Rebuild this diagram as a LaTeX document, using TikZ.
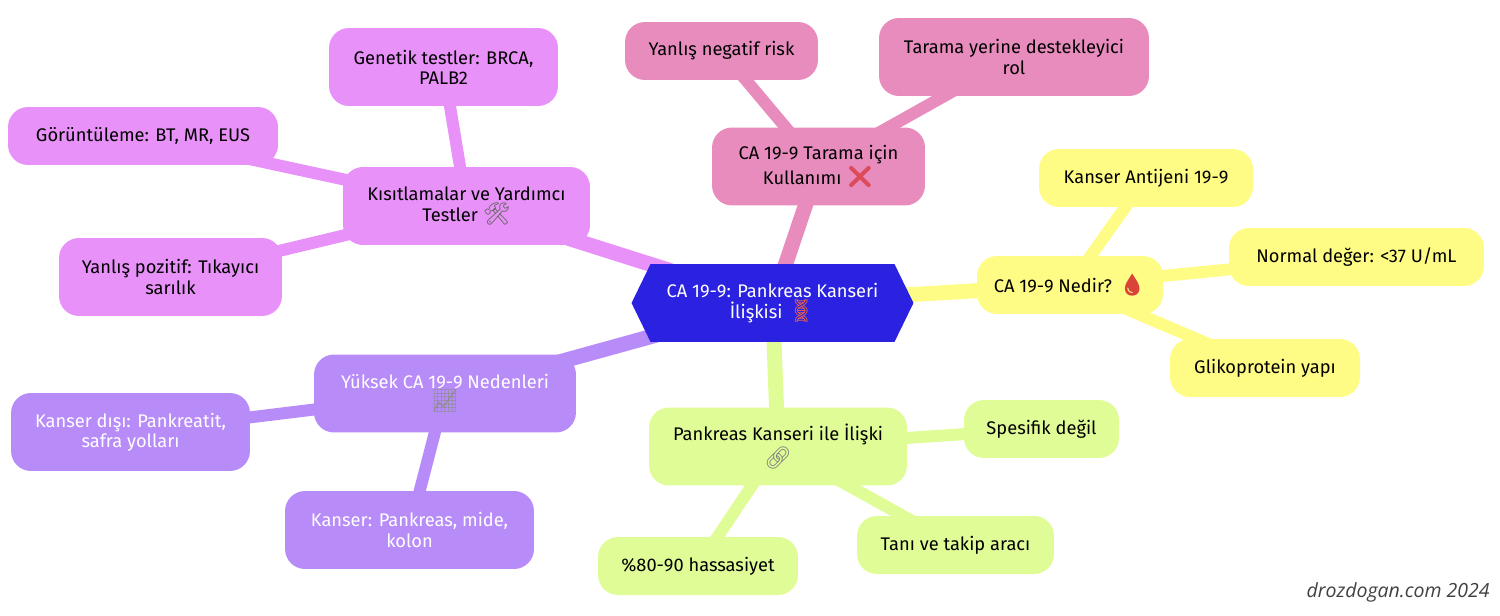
\documentclass[tikz,border=0pt]{standalone}
\usepackage{fontspec}
\setmainfont{Fira Sans}
\newfontfamily\emojifont{Noto Emoji}[Scale=1.2]
\newfontfamily\signfont{Open Sans}
\usepackage{xcolor}
\usetikzlibrary{shapes.symbols, backgrounds}
\definecolor{RootBlue}{HTML}{2A22E0}
\definecolor{TaramaPink}{HTML}{E88CBE}
\definecolor{NedirYellow}{HTML}{FFFC85}
\definecolor{IliskiGreen}{HTML}{E0FC96}
\definecolor{NedenPurple}{HTML}{B88CF8}
\definecolor{TestViolet}{HTML}{E891F8}
\definecolor{CrossRed}{HTML}{DD4A5A}
\definecolor{DropRed}{HTML}{D9433A}
\definecolor{DnaRed}{HTML}{E8604A}
\newcommand{\emo}[2]{{\emojifont\color{#1}#2}}
\tikzset{
    mapnode/.style={rounded corners=0.4cm, inner sep=0pt, align=center, minimum height=1.56cm,
        font=\fontsize{10.4}{11.5}\selectfont},
    leafnode/.style={mapnode, minimum height=1.16cm},
    rootedge/.style={line width=0.3cm},
    leafedge/.style={line width=0.24cm}
}

\begin{document}
\begin{tikzpicture}[x=0.02cm, y=-0.02cm]
    \useasboundingbox (0,0) rectangle (1500,615);

    % Root
    \node[signal, signal to=west and east, signal pointer angle=128, fill=RootBlue, text=white, align=center,
        font=\fontsize{10.4}{11.5}\selectfont, inner sep=0pt, outer sep=0pt, minimum width=5.64cm, minimum height=1.56cm] (root) at (772.5,303)
        {CA 19-9: Pankreas Kanseri\\İlişkisi \emo{DnaRed}{🧬}};

    % Tarama
    \node[mapnode, fill=TaramaPink, minimum width=4.26cm] (tarama) at (818.5,166.5) {CA 19-9 Tarama için\\Kullanımı \emo{CrossRed}{❌}};
    \node[leafnode, fill=TaramaPink, minimum width=3.86cm] (negatif) at (721.5,51) {Yanlış negatif risk};
    \node[mapnode, fill=TaramaPink, minimum width=5.4cm] (destek) at (1014,57) {Tarama yerine destekleyici\\rol};

    % Nedir
    \node[leafnode, fill=NedirYellow, minimum width=3.72cm] (nedir) at (1070,285) {CA 19-9 Nedir? \emo{DropRed}{🩸}};
    \node[leafnode, fill=NedirYellow, minimum width=4.28cm] (antijen) at (1146,178) {Kanser Antijeni 19-9};
    \node[leafnode, fill=NedirYellow, minimum width=5.1cm] (normal) at (1356.5,257) {Normal değer: <37 U/mL};
    \node[leafnode, fill=NedirYellow, minimum width=3.8cm] (yapi) at (1265,368) {Glikoprotein yapı};

    % Iliski
    \node[mapnode, fill=IliskiGreen, minimum width=5.16cm] (iliski) at (778,446.5) {Pankreas Kanseri ile İlişki\\\emo{black!50}{🔗}};
    \node[leafnode, fill=IliskiGreen, minimum width=3.1cm] (spesifik) at (1041.5,429) {Spesifik değil};
    \node[leafnode, fill=IliskiGreen, minimum width=3.94cm] (takip) at (955.5,545) {Tanı ve takip aracı};
    \node[leafnode, fill=IliskiGreen, minimum width=4cm] (hassas) at (698,566) {\%80-90 hassasiyet};

    % Nedenler
    \node[mapnode, fill=NedenPurple, text=white, minimum width=5.24cm] (neden) at (445,393.5) {Yüksek CA 19-9 Nedenleri\\\emo{black!45}{📈}};
    \node[mapnode, fill=NedenPurple, text=white, minimum width=4.78cm] (disi) at (130.5,432) {Kanser dışı: Pankreatit,\\safra yolları};
    \node[mapnode, fill=NedenPurple, text=white, minimum width=4.98cm] (kanser) at (409.5,530) {Kanser: Pankreas, mide,\\kolon};

    % Testler
    \node[mapnode, fill=TestViolet, minimum width=4.94cm] (testler) at (466.5,206) {Kısıtlamalar ve Yardımcı\\Testler \emo{black!60}{🛠}};
    \node[mapnode, fill=TestViolet, minimum width=4.58cm] (genetik) at (443.5,67) {Genetik testler: BRCA,\\PALB2};
    \node[leafnode, fill=TestViolet, minimum width=5.4cm] (goruntu) at (143,136) {Görüntüleme: BT, MR, EUS};
    \node[mapnode, fill=TestViolet, minimum width=4.46cm] (pozitif) at (170.5,277) {Yanlış pozitif: Tıkayıcı\\sarılık};

    % Edges
    \begin{scope}[on background layer]
        \draw[rootedge, TaramaPink] (root.center) -- (tarama.center);
        \draw[rootedge, NedirYellow] (root.center) -- (nedir.center);
        \draw[rootedge, IliskiGreen] (root.center) -- (iliski.center);
        \draw[rootedge, NedenPurple] (root.center) -- (neden.center);
        \draw[rootedge, TestViolet] (root.center) -- (testler.center);
        \draw[leafedge, TaramaPink] (tarama.center) -- (negatif.center);
        \draw[leafedge, TaramaPink] (tarama.center) -- (destek.center);
        \draw[leafedge, NedirYellow] (nedir.center) -- (antijen.center);
        \draw[leafedge, NedirYellow] (nedir.center) -- (normal.center);
        \draw[leafedge, NedirYellow] (nedir.center) -- (yapi.center);
        \draw[leafedge, IliskiGreen] (iliski.center) -- (spesifik.center);
        \draw[leafedge, IliskiGreen] (iliski.center) -- (takip.center);
        \draw[leafedge, IliskiGreen] (iliski.center) -- (hassas.center);
        \draw[leafedge, NedenPurple] (neden.center) -- (disi.center);
        \draw[leafedge, NedenPurple] (neden.center) -- (kanser.center);
        \draw[leafedge, TestViolet] (testler.center) -- (genetik.center);
        \draw[leafedge, TestViolet] (testler.center) -- (goruntu.center);
        \draw[leafedge, TestViolet] (testler.center) -- (pozitif.center);
    \end{scope}

    % Signature
    \node[font=\signfont\itshape\fontsize{11.1}{14}\selectfont, text=black!75, anchor=east, inner sep=0pt] (imza) at (1490,592) {drozdogan.com 2024};
\end{tikzpicture}
\end{document}
